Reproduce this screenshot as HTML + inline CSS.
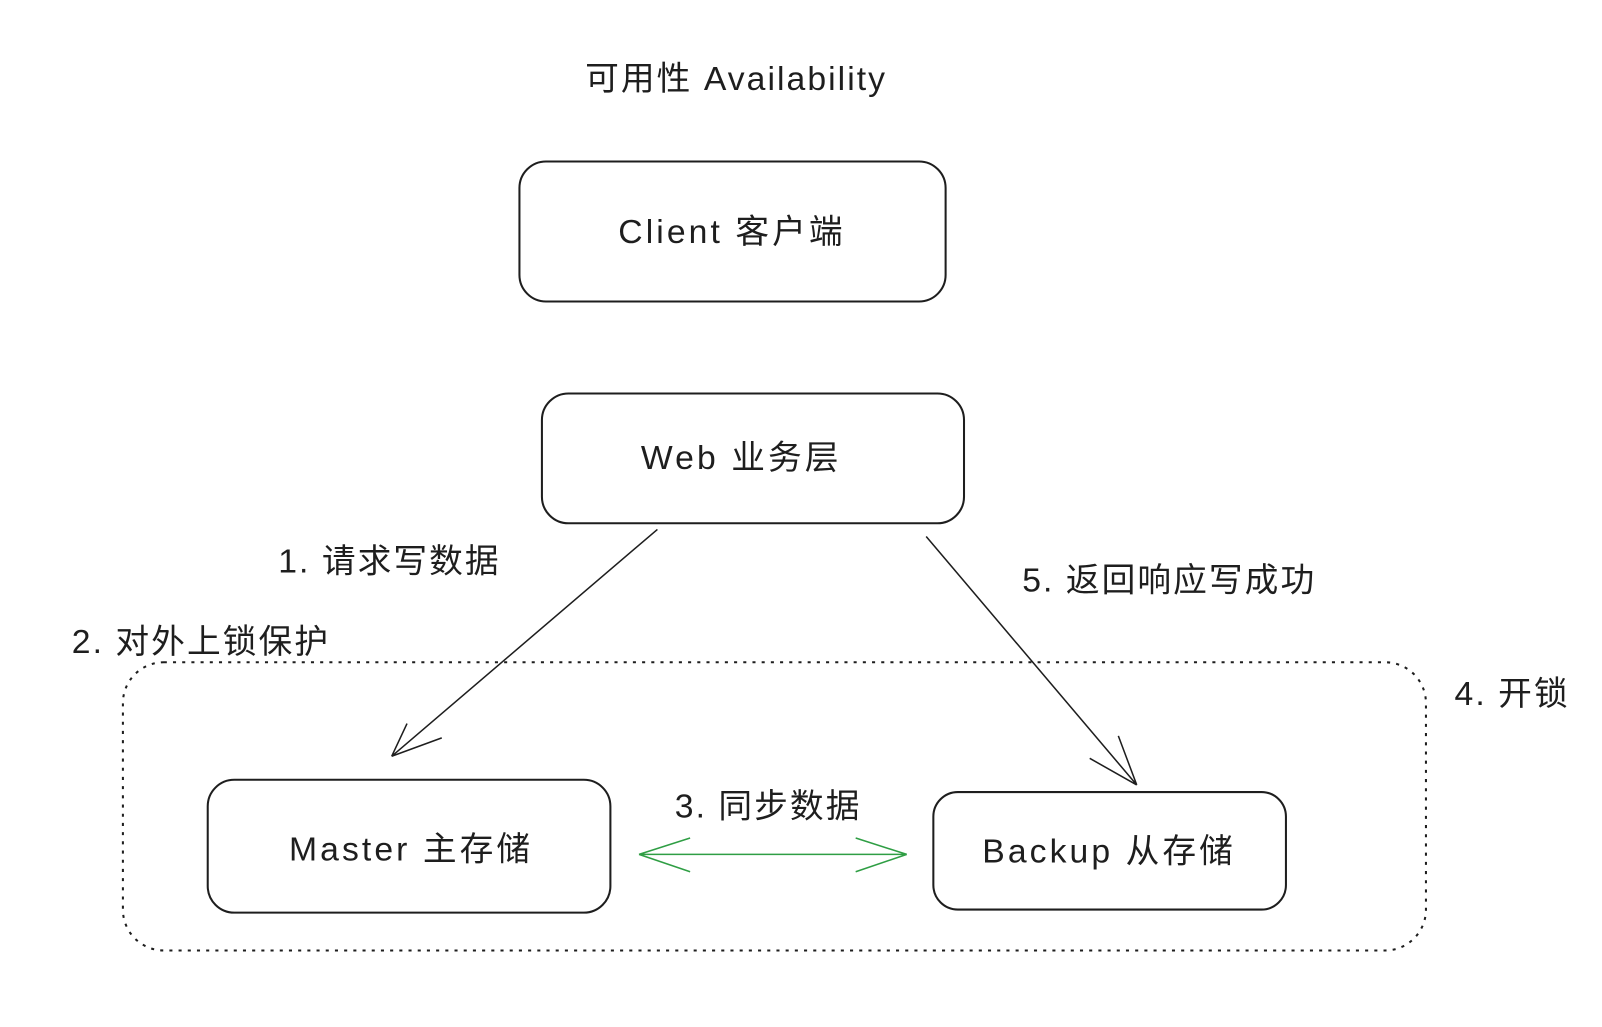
<!DOCTYPE html>
<html><head><meta charset="utf-8"><style>
html,body{margin:0;padding:0;background:#fff;}
svg text{font-family:"Liberation Sans","Noto Sans CJK SC",sans-serif;fill:#1e1e1e;}
</style></head><body>
<svg width="1602" height="1022" viewBox="0 0 1567 1000" xmlns="http://www.w3.org/2000/svg">
<rect width="1567" height="1000" fill="#fff"/>
<text x="720" y="88" font-size="33" text-anchor="middle" letter-spacing="2">可用性 Availability</text>
<g fill="none" stroke="#1e1e1e" stroke-width="2">
<rect x="508" y="158" width="417" height="137" rx="26"/>
<rect x="530" y="385" width="413" height="127" rx="26"/>
<rect x="203" y="763" width="394" height="130" rx="26"/>
<rect x="913" y="775" width="345" height="115" rx="24"/>
<rect x="120" y="648" width="1275" height="282" rx="40" stroke-dasharray="3 6"/>
<path d="M643 518 L383 740 M383 740 L398 708 M383 740 L432 722" stroke-width="1.5"/>
<path d="M906 525 L1112 768 M1112 768 L1066 742 M1112 768 L1094 720" stroke-width="1.5"/>
</g>
<g fill="none" stroke="#2f9e44" stroke-width="1.5">
<path d="M625 836 L887 836 M625 836 L675 820 M625 836 L675 853 M887 836 L837 820 M887 836 L837 853"/>
</g>
<g font-size="33" text-anchor="middle" letter-spacing="3">
<text x="716" y="238">Client 客户端</text>
<text x="725" y="459">Web 业务层</text>
<text x="402" y="842">Master 主存储</text>
<text x="1085" y="844">Backup 从存储</text>
</g>
<g font-size="33" letter-spacing="2">
<text x="272" y="560">1. 请求写数据</text>
<text x="70" y="639">2. 对外上锁保护</text>
<text x="660" y="800">3. 同步数据</text>
<text x="1423" y="690">4. 开锁</text>
<text x="1000" y="579">5. 返回响应写成功</text>
</g>
</svg>
</body></html>
